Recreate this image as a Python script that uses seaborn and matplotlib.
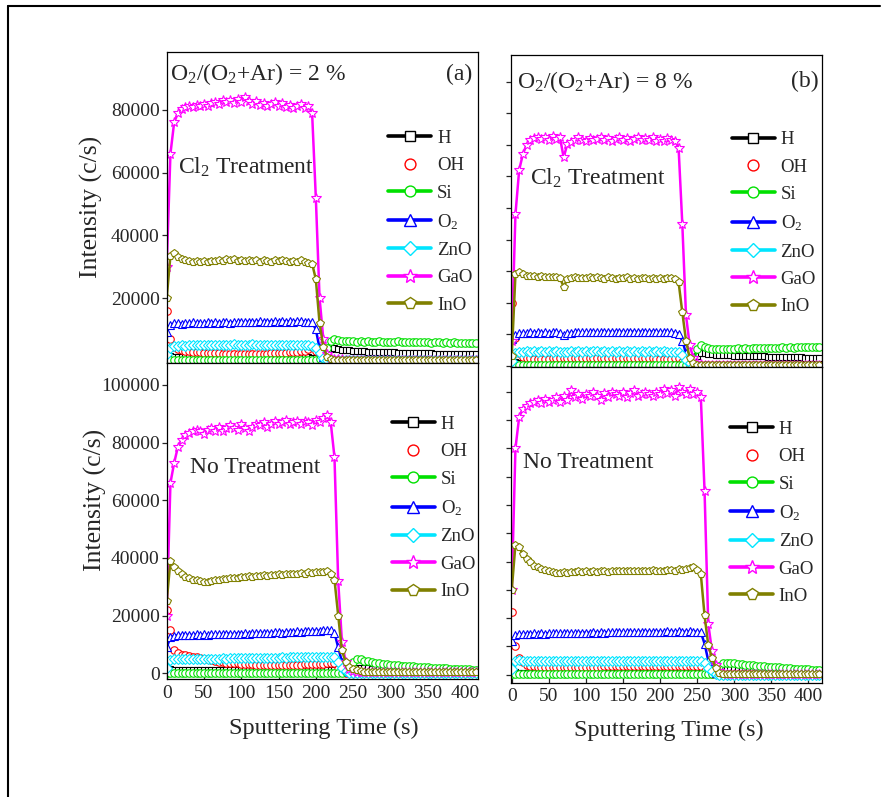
import numpy as np
import pandas as pd
import matplotlib
matplotlib.use("Agg")
import matplotlib.pyplot as plt
import seaborn as sns
from matplotlib.lines import Line2D

# ---------------- data (intensity in thousands of c/s) ----------------
TIME = list(range(0, 420, 5))  # sputtering time, s

# (a) Cl2 treatment, O2/(O2+Ar) = 2 %
H_CL2_2 = [2.5, 1.4] + [1.2] * 36 + [1.1, 1.0,
           0.8, 0.6, 1.2, 2.8, 3.8, 3.9, 3.7, 3.5, 3.4, 3.3,
           3.1, 3.1, 3.0, 3.0, 2.9, 2.9, 2.8, 2.8, 2.8, 2.7,
           2.7, 2.7, 2.6, 2.6, 2.6, 2.5, 2.5, 2.5, 2.4, 2.4,
           2.4, 2.4, 2.3, 2.3, 2.3, 2.3, 2.2, 2.2, 2.2, 2.2,
           2.1, 2.1, 2.1, 2.1]
OH_CL2_2 = [16.0, 7.0, 4.5, 3.8, 3.5, 3.2, 3.0, 2.9, 2.8, 2.7,
            2.6, 2.5, 2.5, 2.4, 2.4, 2.3, 2.3, 2.3, 2.2, 2.2,
            2.2, 2.2, 2.2, 2.2, 2.3, 2.3, 2.3, 2.3, 2.4, 2.4,
            2.5, 2.5, 2.6, 2.7, 2.8, 2.9, 3.0, 3.2, 3.6, 4.5,
            3.0, 1.0, 0.4, 0.2, 0.2, 0.2, 0.2, 0.2, 0.2, 0.2] + [0.2] * 34
SI_CL2_2 = [0.3] * 40 + [0.3, 0.4, 1.0, 4.0, 6.2, 6.8, 6.6, 6.4, 6.3, 6.2,
                          6.3, 6.1, 6.2, 6.0, 6.2, 6.1, 6.0, 6.2, 6.1, 6.0,
                          6.1, 6.0, 6.2, 6.0, 5.9, 6.1, 6.0, 5.9, 6.1, 5.9,
                          6.0, 5.8, 6.0, 5.9, 5.8, 6.0, 5.8, 5.9, 5.7, 5.8,
                          5.7, 5.8, 5.6, 5.6]
O2_CL2_2 = [9.0, 11.5, 11.9, 12.0, 11.8, 12.1, 11.9, 12.2, 12.0, 12.1,
            11.9, 12.2, 12.0, 12.3, 12.1, 12.2, 12.4, 12.1, 12.3, 12.2,
            12.4, 12.2, 12.5, 12.3, 12.4, 12.6, 12.3, 12.5, 12.4, 12.6,
            12.5, 12.7, 12.4, 12.6, 12.5, 12.7, 12.6, 12.4, 12.5, 12.2,
            10.0, 4.0, 1.2, 0.4, 0.2, 0.2, 0.2, 0.2, 0.2, 0.2] + [0.2] * 34
ZNO_CL2_2 = [2.0, 4.2, 4.6, 4.8, 4.9, 4.8, 5.0, 4.9, 5.0, 4.9,
             5.0, 5.1, 4.9, 5.0, 5.1, 5.0, 5.1, 5.0, 5.2, 5.0,
             5.1, 5.0, 5.1, 5.2, 5.0, 5.1, 5.0, 5.1, 5.0, 5.1,
             5.0, 5.1, 5.0, 5.1, 5.0, 4.9, 5.0, 4.9, 4.9, 4.6,
             4.0, 2.5, 0.8, 0.1, 0.1, 0.1, 0.1, 0.1, 0.1, 0.1] + [0.1] * 34
GAO_CL2_2 = [30.0, 66.0, 76.0, 79.0, 80.2, 80.8, 81.3, 80.9, 81.6, 81.1,
             82.0, 81.4, 82.3, 82.6, 81.9, 83.0, 82.4, 83.2, 82.1, 83.4,
             82.6, 84.0, 82.8, 82.0, 82.9, 81.6, 82.3, 81.2, 81.8, 82.4,
             81.1, 82.2, 81.0, 81.7, 80.6, 81.3, 81.8, 80.7, 81.2, 79.0,
             52.0, 20.0, 7.0, 2.0, 0.8, 0.5, 0.4, 0.4, 0.3, 0.3] + [0.3] * 34
INO_CL2_2 = [20.0, 33.5, 34.2, 33.0, 32.4, 32.0, 31.8, 31.6, 31.9, 31.5,
             31.7, 31.4, 31.8, 31.9, 32.1, 31.7, 32.3, 32.0, 32.4, 31.9,
             32.1, 31.8, 32.2, 31.7, 32.0, 31.6, 32.1, 31.9, 31.6, 32.0,
             31.8, 32.2, 31.7, 31.5, 31.9, 31.6, 32.0, 31.5, 31.2, 31.0,
             26.0, 12.0, 4.5, 1.2, 0.5, 0.3, 0.3, 0.3, 0.3, 0.3] + [0.3] * 34

# (b) Cl2 treatment, O2/(O2+Ar) = 8 %
H_CL2_8 = [2.0, 1.2] + [1.0] * 38 + [1.0, 1.0, 1.0, 1.0, 1.0, 0.9, 0.6, 0.4, 0.5, 1.2,
                                     3.2, 4.2, 4.0, 3.8, 3.7, 3.6, 3.5, 3.5, 3.4, 3.4,
                                     3.3, 3.3, 3.2, 3.2, 3.1, 3.1, 3.0, 3.0, 3.0, 2.9,
                                     2.9, 2.9, 2.8, 2.8, 2.8, 2.7, 2.7, 2.7, 2.7, 2.6,
                                     2.6, 2.6, 2.6, 2.5]
OH_CL2_8 = [20.0, 9.0, 4.0, 2.8, 2.5, 2.4, 2.3, 2.3, 2.3, 2.3,
            2.3, 2.4, 2.4, 2.4, 2.4, 2.4, 2.5, 2.5, 2.5, 2.5,
            2.5, 2.5, 2.5, 2.5, 2.5, 2.5, 2.5, 2.5, 2.5, 2.5,
            2.5, 2.5, 2.4, 2.4, 2.4, 2.4, 2.4, 2.4, 2.4, 2.3,
            2.3, 2.3, 2.3, 2.3, 2.4, 2.5, 1.2, 0.4, 0.2, 0.2] + [0.2] * 34
SI_CL2_8 = [0.3] * 49 + [1.0,
                         5.5, 6.5, 6.0, 5.6, 5.5, 5.4, 5.5, 5.4, 5.5, 5.4,
                         5.5, 5.6, 5.5, 5.6, 5.5, 5.7, 5.6, 5.7, 5.6, 5.7,
                         5.8, 5.7, 5.8, 5.9, 5.8, 5.9, 5.8, 6.0, 5.9, 6.0,
                         6.0, 6.1, 6.0, 6.1]
O2_CL2_8 = [8.5, 9.8, 10.3, 10.5, 10.4, 10.6, 10.5, 10.7, 10.5, 10.6,
            10.5, 10.7, 10.6, 10.5, 9.7, 10.3, 10.5, 10.6, 10.7, 10.6,
            10.7, 10.6, 10.8, 10.7, 10.6, 10.8, 10.7, 10.9, 10.7, 10.8,
            10.8, 10.7, 10.9, 10.8, 10.7, 10.9, 10.8, 10.7, 10.9, 10.8,
            10.7, 10.8, 10.7, 10.6, 10.5, 10.2, 8.0, 4.0, 1.5, 0.5] + [0.2] * 34
ZNO_CL2_8 = [1.5, 4.0, 4.4, 4.5, 4.6, 4.5, 4.6, 4.5, 4.6, 4.5,
             4.6, 4.5, 4.6, 4.5, 4.4, 4.5, 4.6, 4.5, 4.6, 4.5,
             4.6, 4.5, 4.6, 4.6, 4.5, 4.6, 4.5, 4.6, 4.5, 4.6,
             4.5, 4.6, 4.5, 4.6, 4.5, 4.6, 4.5, 4.6, 4.5, 4.6,
             4.5, 4.6, 4.5, 4.5, 4.4, 4.3, 3.5, 2.0, 0.8, 0.1] + [0.1] * 34
GAO_CL2_8 = [8.0, 48.0, 62.0, 67.0, 70.0, 71.5, 72.0, 72.6, 71.8, 72.4,
             71.6, 72.8, 71.9, 72.3, 66.0, 70.2, 71.0, 71.6, 72.3, 71.5,
             71.2, 72.0, 71.4, 71.8, 72.3, 71.5, 72.1, 71.3, 71.9, 72.4,
             71.6, 72.2, 71.1, 71.8, 72.5, 71.4, 72.0, 71.6, 72.3, 71.2,
             71.9, 71.3, 72.0, 71.5, 71.3, 69.0, 45.0, 16.0, 6.5, 2.5,
             1.0, 0.5] + [0.3] * 32
INO_CL2_8 = [3.0, 29.0, 29.8, 29.0, 28.6, 28.4, 28.5, 28.2, 28.4, 28.1,
             28.3, 28.0, 28.2, 27.9, 25.0, 27.5, 27.8, 28.0, 27.7, 27.9,
             27.8, 28.1, 27.7, 28.0, 27.9, 27.6, 28.0, 27.8, 27.5, 27.9,
             27.7, 28.0, 27.6, 27.8, 27.5, 27.9, 27.7, 27.6, 27.9, 27.5,
             27.8, 27.6, 27.9, 27.7, 27.4, 26.5, 17.0, 8.0, 2.5, 0.8,
             0.4] + [0.3] * 33

# No treatment, O2/(O2+Ar) = 2 %
H_NONE_2 = [3.0, 1.4] + [1.2] * 38 + [1.2, 1.2, 1.2, 1.2, 1.2, 1.1, 0.8, 0.6, 0.8, 1.5,
                                      2.0, 1.9, 1.8, 1.7, 1.7, 1.6, 1.6, 1.5, 1.5, 1.4,
                                      1.4, 1.4, 1.3, 1.3, 1.3, 1.2, 1.2, 1.2, 1.1, 1.1,
                                      1.1, 1.1, 1.0, 1.0, 1.0, 1.0, 1.0, 0.9, 0.9, 0.9,
                                      0.9, 0.9, 0.9, 0.9]
OH_NONE_2 = [22.0, 15.0, 8.0, 7.0, 6.5, 6.3, 6.0, 5.8, 5.6, 5.3,
             5.0, 4.8, 4.5, 4.3, 4.0, 3.9, 3.7, 3.6, 3.5, 3.4,
             3.3, 3.2, 3.2, 3.1, 3.0, 3.0, 3.0, 2.9, 2.9, 2.9,
             2.9, 2.9, 2.9, 2.9, 3.0, 3.0, 3.0, 3.1, 3.1, 3.2,
             3.2, 3.3, 3.3, 3.4, 3.5, 3.5, 1.5, 0.5, 0.2, 0.2] + [0.2] * 34
SI_NONE_2 = [0.2] * 48 + [0.5, 2.0,
                          4.0, 5.0, 4.8, 4.4, 4.1, 3.9, 3.7, 3.5, 3.3, 3.1,
                          3.0, 2.9, 2.8, 2.7, 2.6, 2.5, 2.4, 2.3, 2.2, 2.1,
                          2.1, 2.0, 1.9, 1.8, 1.8, 1.7, 1.6, 1.6, 1.5, 1.5,
                          1.4, 1.4, 1.3, 1.3]
O2_NONE_2 = [9.0, 12.5, 13.0, 13.2, 13.3, 13.2, 13.4, 13.3, 13.5, 13.4,
             13.5, 13.4, 13.6, 13.5, 13.7, 13.6, 13.8, 13.7, 13.6, 13.8,
             13.8, 13.9, 13.7, 14.0, 13.9, 14.1, 14.0, 13.9, 14.1, 14.2,
             14.2, 14.1, 14.3, 14.4, 14.2, 14.5, 14.4, 14.6, 14.5, 14.7,
             14.8, 14.7, 14.9, 15.0, 15.0, 14.0, 9.0, 4.0, 1.5, 0.6] + [0.3] * 34
ZNO_NONE_2 = [2.0, 4.5, 4.8, 4.8, 4.9, 4.9, 5.0, 4.9, 5.0, 5.0,
              5.0, 5.1, 5.0, 5.1, 5.1, 5.2, 5.1, 5.2, 5.2, 5.2,
              5.3, 5.2, 5.3, 5.3, 5.3, 5.4, 5.3, 5.4, 5.4, 5.4,
              5.4, 5.5, 5.4, 5.5, 5.5, 5.5, 5.6, 5.5, 5.6, 5.6,
              5.6, 5.6, 5.6, 5.6, 5.5, 5.5, 4.0, 2.0, 0.7, 0.1] + [0.0] * 34
GAO_NONE_2 = [20.0, 66.0, 73.0, 78.5, 81.0, 82.5, 83.5, 84.0, 84.5, 84.0,
              83.0, 84.5, 85.0, 84.0, 85.5, 84.0, 85.0, 86.0, 85.0, 84.5,
              86.5, 85.0, 84.0, 85.5, 86.5, 86.0, 87.0, 85.5, 86.5, 87.5,
              86.5, 87.0, 88.0, 86.5, 87.0, 87.5, 86.5, 87.5, 87.0, 86.0,
              88.0, 87.0, 88.5, 89.5, 87.0, 75.0, 32.0, 11.0, 4.0, 1.5,
              0.7, 0.5] + [0.4] * 32
INO_NONE_2 = [25.0, 39.0, 37.0, 35.5, 34.5, 33.5, 33.0, 32.5, 32.5, 32.0,
              31.8, 31.8, 32.0, 32.3, 32.5, 32.8, 32.7, 33.0, 33.2, 33.0,
              33.4, 33.3, 33.6, 33.5, 33.8, 33.7, 34.0, 33.8, 34.2, 34.0,
              34.3, 34.1, 34.5, 34.3, 34.6, 34.4, 34.8, 34.6, 35.0, 34.8,
              35.2, 35.0, 35.3, 35.6, 34.5, 32.5, 20.0, 8.0, 3.8, 2.2,
              1.5, 1.0, 0.7] + [0.6] * 31

# No treatment, O2/(O2+Ar) = 8 %
H_NONE_8 = [2.0, 1.0] + [0.8] * 48 + [0.8, 0.8, 0.6, 0.4, 0.6, 1.2, 1.8, 2.0, 2.0, 1.9,
                                      1.9, 1.8, 1.8, 1.7, 1.7, 1.6, 1.6, 1.5, 1.5, 1.4,
                                      1.4, 1.4, 1.3, 1.3, 1.3, 1.2, 1.2, 1.2, 1.1, 1.1,
                                      1.1, 1.0, 1.0, 1.0]
OH_NONE_8 = [22.0, 10.0, 6.0, 4.5, 3.6, 3.2, 3.0, 2.9, 2.8, 2.8,
             2.7, 2.7, 2.7, 2.7, 2.8, 2.8, 2.8, 2.8, 2.8, 2.9,
             2.9, 2.9, 2.9, 2.9, 2.9, 3.0, 3.0, 3.0, 3.0, 3.0,
             3.0, 3.0, 3.0, 3.0, 3.1, 3.1, 3.1, 3.1, 3.1, 3.1,
             3.1, 3.1, 3.1, 3.1, 3.1, 3.1, 3.1, 3.1, 3.1, 3.1,
             3.1, 3.0, 1.5, 0.5, 0.2] + [0.2] * 29
SI_NONE_8 = [0.1] * 54 + [0.3, 1.5,
                          3.0, 4.0, 4.3, 4.2,
                          4.0, 3.9, 3.7, 3.6, 3.5, 3.3, 3.2, 3.1, 3.0, 2.9,
                          2.8, 2.7, 2.6, 2.5, 2.4, 2.3, 2.2, 2.1, 2.0, 2.0,
                          1.9, 1.8, 1.8, 1.7]
O2_NONE_8 = [12.0, 14.0, 14.3, 14.4, 14.5, 14.4, 14.6, 14.5, 14.6, 14.5,
             14.7, 14.6, 14.7, 14.6, 14.8, 14.7, 14.8, 14.7, 14.9, 14.8,
             14.9, 14.8, 15.0, 14.9, 15.0, 14.9, 15.1, 15.0, 15.0, 15.1,
             15.1, 15.0, 15.2, 15.1, 15.0, 15.2, 15.1, 15.2, 15.1, 15.2,
             15.2, 15.1, 15.3, 15.2, 15.1, 15.3, 15.2, 15.1, 15.3, 15.2,
             15.2, 15.0, 11.0, 5.0, 2.0, 0.8] + [0.3] * 28
ZNO_NONE_8 = [2.0, 5.0, 5.2, 5.0, 4.9, 4.8, 4.8, 4.7, 4.8, 4.7,
              4.8, 4.7, 4.8, 4.8, 4.7, 4.8, 4.8, 4.9, 4.8, 4.8,
              4.9, 4.8, 4.9, 4.9, 4.8, 4.9, 4.9, 4.9, 5.0, 4.9,
              4.9, 5.0, 4.9, 5.0, 5.0, 4.9, 5.0, 5.0, 5.0, 5.0,
              5.0, 5.0, 5.0, 5.0, 5.0, 5.0, 5.0, 5.0, 5.0, 5.0,
              4.9, 5.0, 4.0, 2.5, 1.2, 0.3] + [0.0] * 28
GAO_NONE_8 = [30.0, 80.0, 91.0, 94.0, 95.0, 96.0, 96.5, 97.0, 96.0, 97.5,
              96.5, 97.0, 98.0, 96.5, 98.5, 97.0, 100.5, 98.0, 99.0, 97.5,
              99.0, 98.5, 100.0, 98.5, 97.0, 99.5, 98.0, 100.0, 99.0, 98.5,
              100.0, 98.0, 99.5, 100.5, 98.5, 99.0, 100.0, 99.0, 98.5, 100.0,
              99.0, 101.0, 99.5, 100.5, 98.5, 101.5, 100.0, 99.0, 101.0, 99.0,
              100.0, 98.0, 65.0, 18.0, 8.5, 3.5, 1.5, 0.6] + [0.3] * 26
INO_NONE_8 = [30.0, 46.0, 45.0, 42.5, 41.0, 40.0, 38.5, 38.0, 37.5, 37.0,
              36.5, 36.2, 36.0, 36.0, 36.3, 36.1, 36.4, 36.2, 36.5, 36.3,
              36.6, 36.4, 36.5, 36.3, 36.6, 36.5, 36.4, 36.7, 36.5, 36.6,
              36.7, 36.5, 36.8, 36.6, 36.5, 36.8, 36.7, 36.6, 36.9, 36.7,
              36.8, 36.6, 36.9, 37.0, 36.8, 37.2, 37.0, 37.5, 37.8, 38.0,
              37.0, 35.5, 21.0, 10.5, 6.0, 2.3, 0.5] + [0.3] * 27

SPECIES = ["H", "OH", "Si", "O2", "ZnO", "GaO", "InO"]
LEGEND_LABELS = ["H", "OH", "Si", r"O$_2$", "ZnO", "GaO", "InO"]

PANEL_DATA = {
    "cl2_2": [H_CL2_2, OH_CL2_2, SI_CL2_2, O2_CL2_2, ZNO_CL2_2, GAO_CL2_2, INO_CL2_2],
    "cl2_8": [H_CL2_8, OH_CL2_8, SI_CL2_8, O2_CL2_8, ZNO_CL2_8, GAO_CL2_8, INO_CL2_8],
    "none_2": [H_NONE_2, OH_NONE_2, SI_NONE_2, O2_NONE_2, ZNO_NONE_2, GAO_NONE_2, INO_NONE_2],
    "none_8": [H_NONE_8, OH_NONE_8, SI_NONE_8, O2_NONE_8, ZNO_NONE_8, GAO_NONE_8, INO_NONE_8],
}

rows = []
for pkey, series in PANEL_DATA.items():
    for sp, vals in zip(SPECIES, series):
        assert len(vals) == len(TIME), (pkey, sp, len(vals))
        for t, v in zip(TIME, vals):
            rows.append((pkey, sp, t, v * 1000.0))
df = pd.DataFrame(rows, columns=["panel", "species", "time", "intensity"])

# ---------------- style ----------------
COLORS = {"H": "#000000", "OH": "#FF0000", "Si": "#00E000", "O2": "#0000FF",
          "ZnO": "#00E5FF", "GaO": "#FF00FF", "InO": "#808000"}
MARKERS = {"H": "s", "OH": "o", "Si": "o", "O2": "^", "ZnO": "D", "GaO": "*", "InO": "p"}
MSIZE = {"H": 4.8, "OH": 5.4, "Si": 5.4, "O2": 5.6, "ZnO": 4.8, "GaO": 7.0, "InO": 5.8}

sns.set_style("ticks")
plt.rcParams["font.family"] = ["Liberation Serif", "DejaVu Serif"]
plt.rcParams["mathtext.fontset"] = "custom"
plt.rcParams["mathtext.rm"] = "Liberation Serif"
plt.rcParams["mathtext.it"] = "Liberation Serif:italic"
plt.rcParams["axes.linewidth"] = 0.9

W, H = 889, 797
fig = plt.figure(figsize=(W / 100, H / 100), dpi=100)


def frac(x0, y0, x1, y1):
    return [x0 / W, 1 - y1 / H, (x1 - x0) / W, (y1 - y0) / H]


PANELS = [
    dict(key="cl2_2", rect=frac(166.7, 51.7, 478, 363), ylim=(-730, 98560),
         yticks=[20000, 40000, 60000, 80000], ylab=True, xlab=False,
         title=r"O$_2$/(O$_2$+Ar) = 2 %", title_xy=(0.011, 0.909), tag="(a)", tag_xy=(0.981, 0.909),
         note=r"Cl$_2$ Treatment", note_xy=(0.036, 0.609), leg_xy=(0.712, 0.750),
         ylabel_xy=(-0.205, 0.50), xlim=(0, 417.5)),
    dict(key="none_2", rect=frac(166.7, 363, 478, 679), ylim=(-1977, 107630),
         yticks=[0, 20000, 40000, 60000, 80000, 100000], ylab=True, xlab=True,
         note="No Treatment", note_xy=(0.075, 0.651), leg_xy=(0.723, 0.833),
         ylabel_xy=(-0.192, 0.566), xlabel_xy=(0.506, -0.124), xlim=(0, 417.5)),
    dict(key="cl2_8", rect=frac(511, 55, 822, 366.7), ylim=(-236, 98400),
         yticks=list(range(0, 100000, 10000)), ylab=False, xlab=False,
         title=r"O$_2$/(O$_2$+Ar) = 8 %", title_xy=(0.018, 0.893), tag="(b)", tag_xy=(0.988, 0.898),
         note=r"Cl$_2$ Treatment", note_xy=(0.061, 0.583), leg_xy=(0.710, 0.756),
         xlim=(-1, 418.4)),
    dict(key="none_8", rect=frac(511, 366.7, 822, 682.7), ylim=(-2800, 108800),
         yticks=list(range(0, 110000, 10000)), ylab=False, xlab=True,
         note="No Treatment", note_xy=(0.040, 0.678), leg_xy=(0.704, 0.829),
         xlabel_xy=(0.506, -0.118), xlim=(-1, 418.4)),
]

for p in PANELS:
    ax = fig.add_axes(p["rect"])
    sub = df[df["panel"] == p["key"]]
    for sp in SPECIES:
        d = sub[sub["species"] == sp]
        c = COLORS[sp]
        sns.lineplot(data=d, x="time", y="intensity", ax=ax, estimator=None, sort=False,
                     legend=False, color=c, linewidth=0 if sp == "OH" else 1.8,
                     linestyle="None" if sp == "OH" else "-",
                     marker=MARKERS[sp], markersize=MSIZE[sp],
                     markerfacecolor="white", markeredgecolor=c, markeredgewidth=0.8)
    ax.set_xlim(*p["xlim"])
    ax.set_ylim(*p["ylim"])
    ax.set_xticks(range(0, 401, 50))
    ax.set_yticks(p["yticks"])
    ax.tick_params(axis="x", direction="in", length=3.5, width=0.9, labelsize=14, pad=4)
    ax.tick_params(axis="y", direction="out", length=3.5, width=0.9, labelsize=14, pad=1.5)
    if not p["xlab"]:
        ax.set_xticklabels([])
        ax.set_xlabel("")
    else:
        ax.set_xlabel("Sputtering Time (s)", fontsize=17.5)
        ax.xaxis.set_label_coords(*p["xlabel_xy"])
    if not p["ylab"]:
        ax.set_yticklabels([])
        ax.set_ylabel("")
    else:
        ax.set_yticklabels([str(v) for v in p["yticks"]])
        ax.set_ylabel("Intensity (c/s)", fontsize=18.5)
        ax.yaxis.set_label_coords(*p["ylabel_xy"])
    for s in ax.spines.values():
        s.set_visible(True)
        s.set_linewidth(0.9)
        s.set_color("black")
    if "title" in p:
        ax.text(*p["title_xy"], p["title"], transform=ax.transAxes, fontsize=17,
                ha="left", va="baseline")
        ax.text(*p["tag_xy"], p["tag"], transform=ax.transAxes, fontsize=17,
                ha="right", va="baseline")
    ax.text(*p["note_xy"], p["note"], transform=ax.transAxes, fontsize=17,
            ha="left", va="baseline")
    handles = []
    for sp in SPECIES:
        c = COLORS[sp]
        handles.append(Line2D([], [], color=c, lw=0 if sp == "OH" else 2.6,
                              ls="None" if sp == "OH" else "-",
                              marker=MARKERS[sp], markersize=MSIZE[sp] * 1.45,
                              markerfacecolor="white", markeredgecolor=c, markeredgewidth=1.0))
    ax.legend(handles, LEGEND_LABELS, loc="upper left", bbox_to_anchor=p["leg_xy"],
              bbox_transform=ax.transAxes, frameon=False, fontsize=13.5,
              handlelength=2.3, handletextpad=0.3, labelspacing=0.55,
              borderpad=0, borderaxespad=0)

# outer frame (left and top edges visible)
fig.add_artist(Line2D([7.5 / W, 7.5 / W], [0, 1 - 5.5 / H], color="black", lw=1.5,
                      transform=fig.transFigure))
fig.add_artist(Line2D([7.5 / W, 880 / W], [1 - 5.5 / H, 1 - 5.5 / H], color="black", lw=1.5,
                      transform=fig.transFigure))

fig.savefig("out.png", dpi=100, facecolor="white")
